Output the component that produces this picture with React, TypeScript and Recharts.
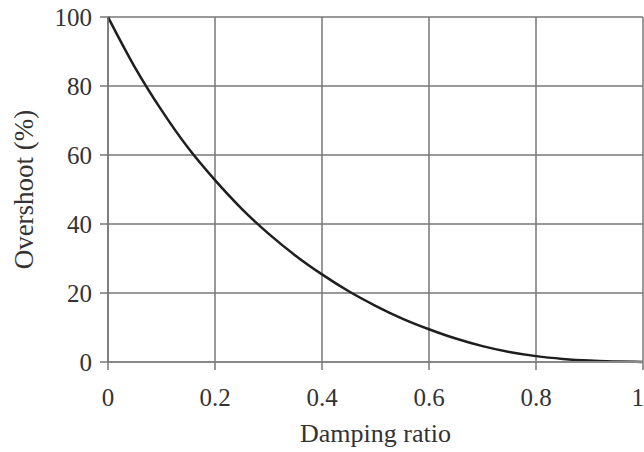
import { LineChart, Line, XAxis, YAxis, CartesianGrid, Label } from 'recharts'

const DAMPING = [0, 0.05, 0.1, 0.15, 0.2, 0.25, 0.3, 0.35, 0.4, 0.45, 0.5, 0.55, 0.6, 0.65, 0.7, 0.75, 0.8, 0.85, 0.9, 0.95, 1]
const OVERSHOOT = [100, 85.5, 73, 62, 52.7, 44.4, 37.2, 30.9, 25.4, 20.5, 16.3, 12.6, 9.5, 6.8, 4.6, 2.9, 1.7, 0.9, 0.4, 0.15, 0]
const X_TICKS = [0, 0.2, 0.4, 0.6, 0.8, 1]
const Y_TICKS = [0, 20, 40, 60, 80, 100]

const data = DAMPING.map((z, i) => ({ zeta: z, overshoot: OVERSHOOT[i] }))

const FONT = '"Liberation Serif", "DejaVu Serif", serif'
const TEXT = '#333'
const GRID = '#777'

function YTitle({ viewBox }: any) {
  const cx = 24
  const cy = viewBox.y + viewBox.height / 2
  return (
    <text
      x={cx}
      y={cy}
      transform={`rotate(-90, ${cx}, ${cy})`}
      textAnchor="middle"
      dominantBaseline="central"
      fontFamily={FONT}
      fontSize={27}
      fill={TEXT}
    >
      Overshoot (%)
    </text>
  )
}

function XTitle({ viewBox }: any) {
  return (
    <text
      x={viewBox.x + viewBox.width / 2}
      y={433}
      textAnchor="middle"
      dominantBaseline="central"
      fontFamily={FONT}
      fontSize={26}
      fill={TEXT}
    >
      Damping ratio
    </text>
  )
}

export default function App() {
  return (
    <div style={{ position: 'absolute', left: 0, top: 0, background: '#fff' }}>
      <LineChart
        width={644}
        height={452}
        data={data}
        margin={{ top: 17, right: 1, left: 0, bottom: 0 }}
      >
        <CartesianGrid stroke={GRID} strokeWidth={1.5} />
        <XAxis
          dataKey="zeta"
          type="number"
          domain={[0, 1]}
          ticks={X_TICKS}
          tickFormatter={(v) => String(v)}
          height={90}
          stroke="#888"
          strokeWidth={2}
          tickSize={8}
          tickMargin={18}
          tick={{ fill: TEXT, fontSize: 25, fontFamily: FONT }}
          tickLine={{ stroke: GRID, strokeWidth: 1.5 }}
        >
          <Label content={<XTitle />} />
        </XAxis>
        <YAxis
          type="number"
          domain={[0, 100]}
          ticks={Y_TICKS}
          width={108}
          stroke={GRID}
          strokeWidth={1.5}
          tickSize={8}
          tickMargin={8}
          tick={{ fill: TEXT, fontSize: 25, fontFamily: FONT }}
          tickLine={{ stroke: GRID, strokeWidth: 1.5 }}
        >
          <Label content={<YTitle />} />
        </YAxis>
        <Line
          type="monotone"
          dataKey="overshoot"
          stroke="#1e1e1e"
          strokeWidth={2.5}
          dot={false}
          isAnimationActive={false}
        />
      </LineChart>
    </div>
  )
}
